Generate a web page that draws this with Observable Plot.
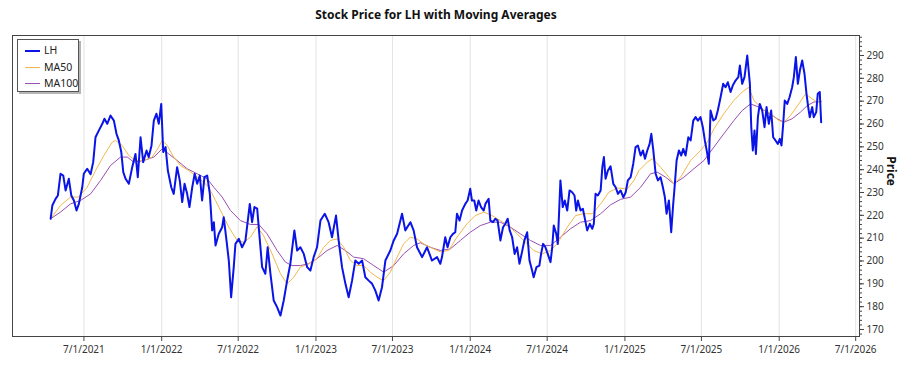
<!DOCTYPE html>
<html><head><meta charset="utf-8">
<script src="https://cdn.jsdelivr.net/npm/d3@7"></script>
<script src="https://cdn.jsdelivr.net/npm/@observablehq/plot@0.6"></script>
<style>
body{margin:0;background:#fff;font-family:"Noto Sans",sans-serif;}
#wrap{position:relative;width:900px;height:375px;overflow:hidden;}
#title{position:absolute;left:0;top:0;width:872px;height:28px;line-height:30px;text-align:center;font-weight:bold;font-size:12px;color:#111;}
#chart{position:absolute;left:0;top:28px;}
#legend{position:absolute;left:17px;top:39px;width:60px;height:51px;border:1px solid #555;background:#fff;box-shadow:2px 2px 0 #b5b5b5;font-size:10.5px;color:#222;}
.item{position:absolute;left:0;height:16px;line-height:16px;}
.sw{position:absolute;left:7px;top:8px;width:15px;}
.lab{position:absolute;left:26px;top:0;white-space:nowrap;}
</style></head><body>
<div id="wrap">
<div id="title">Stock Price for LH with Moving Averages</div>
<div id="chart"></div>
<div id="legend"></div>
</div>
<script>
// Time values are decimal years
const priceT = [2021.280,2021.291,2021.312,2021.327,2021.344,2021.362,2021.377,2021.398,2021.414,2021.431,2021.448,2021.463,2021.485,2021.495,2021.517,2021.539,2021.556,2021.571,2021.593,2021.615,2021.629,2021.647,2021.668,2021.690,2021.707,2021.722,2021.738,2021.751,2021.766,2021.787,2021.809,2021.830,2021.845,2021.863,2021.880,2021.902,2021.916,2021.934,2021.949,2021.966,2021.981,2021.997,2022.010,2022.025,2022.040,2022.062,2022.078,2022.100,2022.117,2022.133,2022.148,2022.165,2022.180,2022.198,2022.214,2022.230,2022.247,2022.262,2022.277,2022.295,2022.312,2022.327,2022.338,2022.349,2022.370,2022.392,2022.402,2022.420,2022.435,2022.450,2022.467,2022.478,2022.500,2022.521,2022.543,2022.571,
2022.586,2022.601,2022.619,2022.629,2022.651,2022.672,2022.687,2022.705,2022.726,2022.748,2022.770,2022.791,2022.813,2022.834,2022.860,2022.878,2022.899,2022.921,2022.943,2022.964,2022.985,2023.007,2023.029,2023.057,2023.082,2023.104,2023.130,2023.147,2023.169,2023.191,2023.212,2023.234,2023.255,2023.277,2023.299,2023.320,2023.342,2023.364,2023.385,2023.406,2023.428,2023.450,2023.482,2023.504,2023.526,2023.558,2023.579,2023.612,2023.633,2023.655,2023.688,2023.720,2023.752,2023.785,2023.806,
2023.817,2023.838,2023.853,2023.871,2023.888,2023.903,2023.914,2023.931,2023.947,2023.968,2023.983,2024.000,2024.011,2024.026,2024.039,2024.054,2024.070,2024.087,2024.098,2024.119,2024.130,2024.147,2024.162,2024.177,2024.195,2024.212,2024.227,2024.242,2024.255,2024.271,2024.287,2024.303,2024.318,2024.335,2024.350,2024.368,2024.383,2024.400,2024.410,2024.428,2024.447,2024.458,2024.471,2024.486,2024.501,2024.519,2024.530,2024.540,2024.556,2024.566,2024.583,2024.598,2024.611,2024.627,2024.642,2024.659,2024.674,2024.685,2024.696,2024.713,2024.728,2024.739,2024.756,2024.773,2024.789,2024.799,2024.810,2024.825,2024.843,2024.854,2024.864,2024.875,2024.890,
2024.907,2024.925,2024.940,2024.955,2024.972,2024.990,2025.005,2025.019,2025.037,2025.054,2025.069,2025.084,2025.102,2025.117,2025.130,2025.145,2025.160,2025.171,2025.184,2025.199,2025.214,2025.231,2025.246,2025.259,2025.270,2025.285,2025.300,2025.313,2025.322,2025.335,2025.350,2025.365,2025.378,2025.393,2025.411,2025.426,2025.443,2025.458,2025.473,2025.490,2025.505,2025.518,2025.534,2025.544,2025.555,2025.573,2025.588,2025.602,2025.620,2025.637,2025.652,2025.667,2025.685,2025.700,2025.717,2025.735,2025.745,2025.760,2025.775,2025.793,2025.810,2025.819,2025.829,2025.840,2025.849,2025.862,2025.874,2025.890,2025.905,2025.918,2025.933,2025.948,2025.961,2025.976,2025.991,2026.004,2026.015,2026.026,2026.036,2026.052,2026.067,2026.084,2026.095,2026.108,2026.121,2026.134,2026.149,2026.164,2026.177,2026.188,2026.198,2026.214,2026.224,2026.240,2026.250,2026.263,2026.272];
const priceV = [218.5,224.3,227.2,228.7,238.2,237.4,230.9,236,228.7,226.5,222.1,225,232.3,238.2,240.4,238,243.3,254.2,257.2,260.1,262.3,260.1,263.7,261.5,255.7,252.8,247.7,238.9,236,233.8,241.1,246.9,236.7,254.2,243.3,248.4,245.5,250.6,261.5,264.5,260.1,268.8,247.7,249.9,239.6,232.3,229.4,241.1,235.3,225.8,233.8,229.4,223.6,232.3,238.2,233.8,237.4,226.5,236.7,237.4,229.4,213.4,217,206.8,211.9,214.8,219.2,209,200.2,184.1,197.3,207.5,209.7,206,209,225,
217,223.6,222.9,214.8,197.3,194.4,206,194.4,182.7,179.8,176.1,182.7,191.4,198.8,213.4,204.6,206,203.1,197.3,195.8,201.7,206,217.7,220.7,217,210.4,219.9,209,197.3,190,184.1,191.4,200.2,198.8,200.2,192.9,191.4,190,187,182.7,188.5,200.2,204.6,209,211.9,220.7,213.4,217,213.4,206,201.7,206,200.2,201.7,198.8,
201.7,210.4,206,210.4,211.9,212.6,220.7,217.7,222.1,225,226.5,231.6,226.5,226.5,222.1,226.5,223.6,222.1,225,227.2,217.7,217,218.5,217.7,209,214.8,216.3,218.5,213.4,210.4,203.1,206,198.8,204,209,212.6,200.2,195.8,192.9,197.3,198,203.1,207.5,206,203.1,199.5,206,215.5,211.9,207.5,235.3,223.6,226.5,222.1,230.9,230.1,228.7,222.1,226.5,222.1,222.9,219.2,213.4,216.3,214.1,216.3,229.4,228.7,230.9,241.1,245.5,236,239.6,
241.5,233.8,232.3,229.4,230.9,227.9,230.1,235.3,236.7,242.6,249.9,250.6,246.2,248.4,244.8,248.4,251.3,255.7,248.4,238.2,235.3,236.7,232.3,227.9,220.7,226.5,212.6,225,232.3,244,248.4,246.2,249.1,246.2,254.2,252.8,261.5,263,261.5,263,258.6,252.8,246.9,242.6,265.9,261.5,262.3,265.9,271.7,277.6,276.1,278.3,274,277,279,280.5,285.6,277.6,280.5,290,277.6,258.6,248.4,257.2,246.9,263,268.8,265.9,258.6,267.4,260.1,265.9,254.2,252.8,251.3,253.5,250.6,260.1,270.3,268.8,271.7,276.1,280.5,289.3,277.6,283.4,287.8,282,273.2,267.4,263,267.4,263,265.2,273.2,274,260.8];

const ma50T = [2021.280,2021.344,2021.409,2021.461,2021.517,2021.571,2021.625,2021.679,2021.701,2021.744,2021.787,2021.830,2021.884,2021.938,2021.981,2022.003,2022.036,2022.078,2022.122,2022.176,2022.230,2022.273,2022.305,2022.349,2022.392,2022.435,2022.489,2022.532,2022.575,2022.619,2022.661,2022.716,2022.770,2022.813,2022.856,2022.899,2022.953,2023.007,2023.050,2023.093,2023.137,2023.180,2023.223,2023.266,2023.309,2023.353,2023.396,2023.439,2023.482,2023.526,2023.568,2023.612,2023.655,2023.698,2023.741,2023.806,2023.860,2023.914,2023.979,2024.033,2024.087,2024.141,2024.195,2024.248,2024.303,2024.357,2024.410,2024.465,2024.519,2024.562,2024.627,2024.681,2024.734,2024.789,2024.843,2024.896,2024.951,2025.015,2025.056,2025.091,2025.145,2025.178,2025.231,2025.285,2025.317,2025.361,2025.426,2025.490,2025.534,2025.577,2025.641,2025.706,2025.760,2025.803,2025.836,2025.890,2025.944,2025.998,2026.030,2026.073,2026.127,2026.171,2026.214,2026.246,2026.272];
const ma50V = [218.5,224.3,228,228,232.3,239.6,246.2,252,252.8,250.6,246.2,244,244,245.5,249.9,252.8,250.6,245.5,241.8,239.6,236.7,234.5,232.3,226.5,220.7,214.8,209,208.2,210.4,215,211,203.1,194.4,190,192.9,197.3,198.8,201,206,209,209.7,206,200.2,198,198,195.1,192.9,191.4,195.1,201.7,207.5,210.4,209.7,207.5,206,204,204.6,210.4,216.3,219.9,221.4,219.9,217.7,215.5,211.9,208.2,204.6,203.1,204.6,207.5,214.8,219.9,220.7,220.7,225,230.1,232,231.6,235,239.6,243.3,244.8,241.1,236.7,233.8,236.7,244,248.4,252,257.9,264.5,270.3,274,276.1,270.3,266.7,264.5,261.5,260.8,263.7,268.8,273.2,271,269.6,270];

const ma100T = [2021.280,2021.344,2021.409,2021.474,2021.539,2021.604,2021.668,2021.733,2021.777,2021.819,2021.884,2021.949,2022.003,2022.046,2022.100,2022.165,2022.230,2022.295,2022.338,2022.392,2022.446,2022.510,2022.575,2022.629,2022.683,2022.748,2022.802,2022.845,2022.899,2022.953,2023.007,2023.072,2023.137,2023.191,2023.244,2023.309,2023.374,2023.439,2023.504,2023.568,2023.633,2023.677,2023.741,2023.806,2023.871,2023.936,2024.000,2024.065,2024.130,2024.195,2024.260,2024.324,2024.389,2024.454,2024.519,2024.583,2024.648,2024.713,2024.778,2024.843,2024.907,2024.972,2025.037,2025.102,2025.166,2025.210,2025.264,2025.317,2025.382,2025.447,2025.512,2025.577,2025.641,2025.706,2025.760,2025.814,2025.868,2025.922,2025.987,2026.030,2026.084,2026.138,2026.182,2026.224,2026.272];
const ma100V = [218.5,221.4,225,226.5,229.4,235.3,241.8,245.5,245.5,243.3,244,245.5,249.1,246.9,244,240.4,238.2,236,232.3,228,222.1,217.7,216,216,211.9,204.6,199.5,198,198,198.8,201,204.6,206.8,204.6,201.7,201,198,195.1,198,203.1,206.8,208,206,204.6,205.3,209,212.6,215.5,217,217,214.8,211.9,209,206.8,206.8,210.4,214.1,217,217.7,220.7,224.6,227,228,232.3,238.2,238.9,236.7,233.8,236.7,240.4,244,249.9,255.7,261.5,265.9,268.8,267.4,265.2,262.3,260.8,262.3,265.2,268.1,269.6,269.8];

const yTicks = [170,180,190,200,210,220,230,240,250,260,270,280,290];
const xTickLabels = ["7/1/2021","1/1/2022","7/1/2022","1/1/2023","7/1/2023","1/1/2024","7/1/2024","1/1/2025","7/1/2025","1/1/2026","7/1/2026"];
const seriesNames = ["LH","MA50","MA100"];
const seriesColors = ["#0a14e6","#f2b84b","#9a4fb2"];
const seriesWidths = [2,1,1];

function fromYear(t){const y=Math.floor(t);const a=Date.UTC(y,0,1),b=Date.UTC(y+1,0,1);return new Date(a+(t-y)*(b-a));}
const rows = (T,V)=>T.map((t,i)=>({date:fromYear(t),value:V[i]}));
const price = rows(priceT,priceV), ma50 = rows(ma50T,ma50V), ma100 = rows(ma100T,ma100V);
const parse = d3.utcParse("%m/%d/%Y");
const xTicks = xTickLabels.map(parse);
const fmt = d3.utcFormat("%-m/%-d/%Y");

const chart = Plot.plot({
  width: 900, height: 347,
  marginTop: 7, marginBottom: 39, marginLeft: 12, marginRight: 41,
  style: {fontFamily: '"Noto Sans", sans-serif', fontSize: "10px", color: "#333", background: "#fff"},
  x: {type: "utc", domain: [new Date("2021-01-13"), new Date("2026-07-10")]},
  y: {domain: [166.93, 298.76]},
  marks: [
    Plot.gridX(xTicks, {stroke: "#e3e3e3", strokeOpacity: 1}),
    Plot.line(ma100, {x: "date", y: "value", stroke: seriesColors[2], strokeWidth: seriesWidths[2]}),
    Plot.line(ma50, {x: "date", y: "value", stroke: seriesColors[1], strokeWidth: seriesWidths[1]}),
    Plot.line(price, {x: "date", y: "value", stroke: seriesColors[0], strokeWidth: seriesWidths[0]}),
    Plot.frame({stroke: "#444"}),
    Plot.axisX(xTicks, {anchor: "bottom", tickSize: 5, tickPadding: 4, tickFormat: fmt, label: null, fontSize: 10, stroke: "#444"}),
    Plot.axisY(d3.range(168, 299, 2), {anchor: "right", tickSize: 2, text: null, label: null, stroke: "#444"}),
    Plot.axisY(yTicks, {anchor: "right", tickSize: 4, tickPadding: 3, label: null, fontSize: 10, stroke: "#444"}),
    Plot.text(["Price"], {frameAnchor: "right", text: d => d, rotate: 90, dx: 31, fontWeight: "bold", fontSize: 12, fill: "#111"})
  ]
});
document.getElementById("chart").appendChild(chart);

const leg = document.getElementById("legend");
seriesNames.forEach((n,i)=>{
  const it = document.createElement("div");
  it.className = "item"; it.style.top = (2 + i*16.5) + "px"; it.style.width = "100%";
  it.innerHTML = `<div class="sw" style="border-top:${seriesWidths[i]}px solid ${seriesColors[i]}"></div><div class="lab">${n}</div>`;
  leg.appendChild(it);
});
</script>
</body></html>
